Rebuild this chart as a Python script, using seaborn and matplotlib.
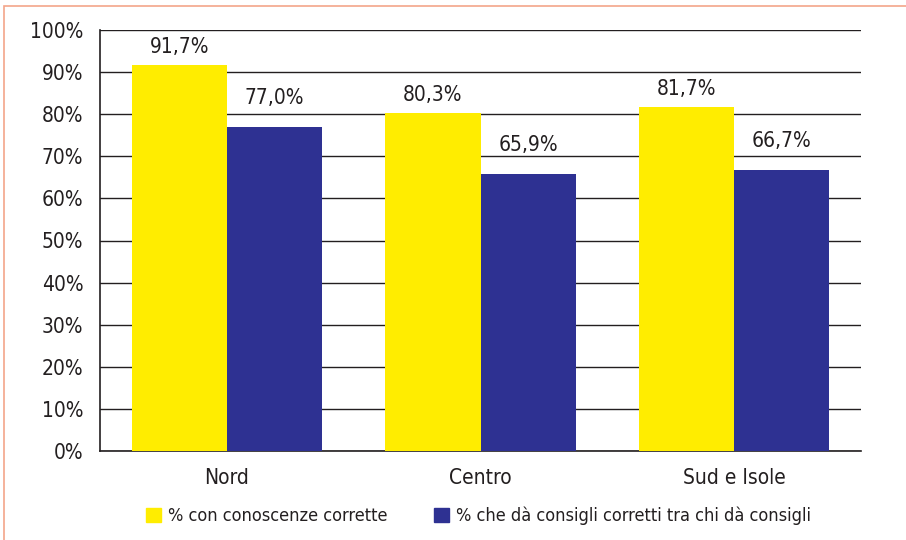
import pandas as pd
import matplotlib.pyplot as plt
import matplotlib.patches as mpatches
import seaborn as sns

# Data
regions = ['Nord', 'Centro', 'Sud e Isole']
series_names = ['% con conoscenze corrette',
                '% che dà consigli corretti tra chi dà consigli']
conoscenze = [91.7, 80.3, 81.7]
consigli = [77.0, 65.9, 66.7]
y_ticks = [0, 10, 20, 30, 40, 50, 60, 70, 80, 90, 100]

YELLOW = '#FFED00'
BLUE = '#2E3192'
TEXT = '#231F20'


def build_frame():
    """Long-form table for seaborn."""
    rows = []
    for i, reg in enumerate(regions):
        rows.append({'Area': reg, 'Serie': series_names[0], 'Valore': conoscenze[i]})
        rows.append({'Area': reg, 'Serie': series_names[1], 'Valore': consigli[i]})
    return pd.DataFrame(rows)


def create_chart(df):
    sns.set_style('white')
    plt.rcParams['font.family'] = ['DejaVu Sans']
    plt.rcParams['font.stretch'] = 'condensed'

    fig = plt.figure(figsize=(9.06, 5.4), dpi=100)
    ax = fig.add_axes([100 / 906, 89 / 540, 761 / 906, 421 / 540])

    sns.barplot(data=df, x='Area', y='Valore', hue='Serie', order=regions,
                hue_order=series_names, palette=[YELLOW, BLUE], width=0.75,
                saturation=1, ax=ax, legend=False, zorder=3, linewidth=0)

    # value labels with comma decimal separator
    # (the blue series sits a bit higher above its bars in the original)
    offsets = [6, 13.5]
    for cont, off in zip(ax.containers, offsets):
        for bar in cont:
            h = bar.get_height()
            ax.annotate(f'{h:.1f}%'.replace('.', ','),
                        (bar.get_x() + bar.get_width() / 2, h),
                        xytext=(0, off), textcoords='offset points',
                        ha='center', va='bottom', fontsize=15, color=TEXT)

    # axes styling
    ax.set_ylim(0, 100)
    ax.set_xlim(-0.5, 2.5)
    ax.set_yticks(y_ticks)
    ax.set_yticklabels([f'{t}%' for t in y_ticks], fontsize=15, color=TEXT)
    ax.set_xticks(range(len(regions)))
    ax.set_xticklabels(regions, fontsize=15, color=TEXT)
    ax.set_xticks([-0.5, 0.5, 1.5, 2.5], minor=True)
    ax.tick_params(axis='x', which='major', length=0, pad=12)
    ax.tick_params(axis='x', which='minor', length=6, width=1, color=TEXT, direction='out')
    ax.tick_params(axis='y', length=8, width=1, color=TEXT, direction='out', pad=4)
    ax.set_xlabel('')
    ax.set_ylabel('')

    ax.grid(axis='y', color=TEXT, linewidth=1, zorder=0)
    ax.set_axisbelow(True)
    for side in ['top', 'right']:
        ax.spines[side].set_visible(False)
    for side in ['left', 'bottom']:
        ax.spines[side].set_color(TEXT)
        ax.spines[side].set_linewidth(1.2)

    # legend below the plot
    handles = [mpatches.Patch(color=YELLOW), mpatches.Patch(color=BLUE)]
    fig.legend(handles, series_names, loc='center', bbox_to_anchor=(0.528, 0.044),
               ncol=2, frameon=False, fontsize=13, handlelength=0.85, handleheight=0.85,
               handletextpad=0.35, columnspacing=2.6, labelcolor=TEXT)

    # salmon frame around the figure
    fig.patches.append(mpatches.Rectangle((4 / 906, -0.05), 1.1, (534 / 540) + 0.05,
                                          transform=fig.transFigure, fill=False,
                                          edgecolor='#F4A58A', linewidth=1.2))

    fig.savefig('out.png', dpi=100)
    plt.close(fig)


if __name__ == '__main__':
    create_chart(build_frame())
